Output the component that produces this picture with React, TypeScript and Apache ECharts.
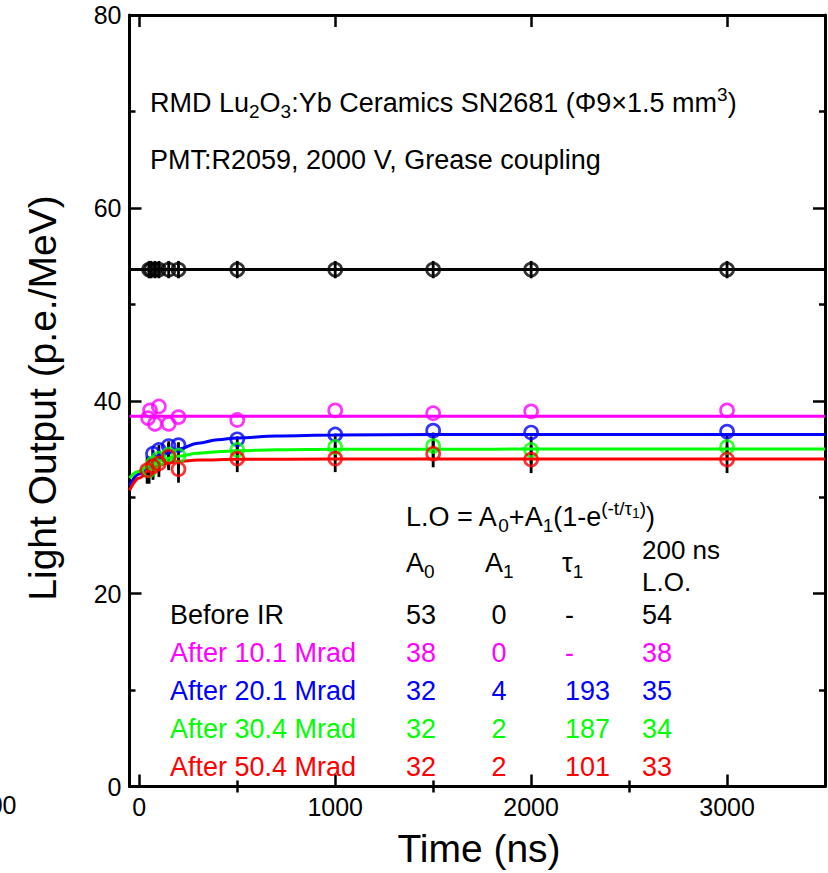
import React, { useEffect, useRef } from "react";
import * as echarts from "echarts";

const FONT = "'Liberation Sans', Arial, Helvetica, sans-serif";

// axis ticks
const xMajorTicks = [0, 1000, 2000, 3000];
const xMinorTicks = [500, 1500, 2500];
const yTicks = [0, 20, 40, 60, 80];

// colours
const cBlack = "#000000";
const cMagenta = "#ff00ff";
const cBlue = "#0000ff";
const cGreen = "#00ff00";
const cRed = "#ff0000";

// measured points
const blackT = [50, 60, 80, 100, 150, 200, 500, 1000, 1500, 2000, 3000];
const blackV = [53.6, 53.6, 53.6, 53.6, 53.6, 53.6, 53.6, 53.6, 53.6, 53.6, 53.6];
const blackErr = 0.9;

const magentaT = [45, 55, 80, 100, 150, 200, 500, 1000, 1500, 2000, 3000];
const magentaV = [38.2, 39.0, 37.6, 39.4, 37.6, 38.3, 38.0, 39.0, 38.7, 38.9, 39.0];

const blueT = [70, 100, 150, 200, 500, 1000, 1500, 2000, 3000];
const blueV = [34.5, 34.9, 35.3, 35.4, 36.0, 36.5, 36.9, 36.7, 36.8];

const greenT = [50, 70, 100, 150, 200, 500, 1000, 1500, 2000, 3000];
const greenV = [32.8, 33.5, 34.0, 34.4, 34.3, 34.9, 35.2, 35.3, 34.9, 35.2];
const greenErr = 1.4;

const redT = [40, 70, 100, 150, 200, 500, 1000, 1500, 2000, 3000];
const redV = [32.8, 33.2, 33.5, 34.2, 32.9, 34.0, 34.0, 34.5, 33.9, 33.9];
const redErr = 1.4;

// fitted curves
const blackFitT = [-50, 3500];
const blackFitV = [53.6, 53.6];
const magentaFitT = [-50, 3500];
const magentaFitV = [38.4, 38.4];
const blueFitT = [-50, 0, 50, 100, 150, 200, 300, 400, 500, 700, 1000, 1500, 3500];
const blueFitV = [31.2, 32.4, 33.3, 34.0, 34.6, 35.0, 35.6, 35.95, 36.15, 36.35, 36.45, 36.5, 36.5];
const greenFitT = [-50, 0, 50, 100, 150, 200, 300, 400, 500, 700, 1000, 3500];
const greenFitV = [32.0, 32.7, 33.3, 33.75, 34.05, 34.25, 34.55, 34.72, 34.82, 34.93, 34.98, 35.0];
const redFitT = [-50, 0, 50, 100, 150, 200, 300, 500, 1000, 3500];
const redFitV = [30.7, 32.0, 32.8, 33.3, 33.55, 33.72, 33.85, 33.93, 33.95, 33.95];

// fit table
const rowLabels = ["Before IR", "After 10.1 Mrad", "After 20.1 Mrad", "After 30.4 Mrad", "After 50.4 Mrad"];
const rowColors = [cBlack, cMagenta, cBlue, cGreen, cRed];
const rowA0 = ["53", "38", "32", "32", "32"];
const rowA1 = ["0", "0", "4", "2", "2"];
const rowTau = ["-", "-", "193", "187", "101"];
const rowLO = ["54", "38", "35", "34", "33"];

const zip = (t: number[], v: number[]) => t.map((x, i) => [x, v[i]]);
const errData = (t: number[], v: number[], e: number) => t.map((x, i) => [x, v[i] - e, v[i] + e]);

export default function App() {
  const ref = useRef<HTMLDivElement>(null);
  useEffect(() => {
    if (!ref.current) return;
    const chart = echarts.init(ref.current, undefined, { renderer: "svg" });
    const FS = 27;
    const rich = {
      n: { fontSize: FS, fontFamily: FONT },
      sub: { fontSize: 19, fontFamily: FONT, padding: [16, 0, 0, 0] },
      sup: { fontSize: 19, fontFamily: FONT, padding: [0, 0, 18, 0] },
      supsub: { fontSize: 14, fontFamily: FONT, padding: [0, 0, 9, 0] },
    };
    const txt = (x: number, y: number, text: string, color = "#000", align = "left", extra: any = {}) => ({
      type: "text",
      x,
      y,
      silent: true,
      style: {
        text,
        fill: color,
        fontSize: FS,
        fontFamily: FONT,
        align,
        verticalAlign: "middle",
        rich,
        ...extra,
      },
    });

    const rowY = [615, 653, 691, 729, 767];
    const graphics: any[] = [
      txt(150, 103, "RMD Lu{sub|2}O{sub|3}:Yb Ceramics SN2681 (Φ9×1.5 mm{sup|3})"),
      txt(150, 160, "PMT:R2059, 2000 V, Grease coupling"),
      txt(406, 517, "L.O = A{sub|0}+A{sub|1}(1-e{sup|(-t/τ}{supsub|1}{sup|)})"),
      txt(406, 563, "A{sub|0}"),
      txt(485, 563, "A{sub|1}"),
      txt(562, 563, "τ{sub|1}"),
      txt(642, 550, "200 ns", "#000", "left", { fontSize: 26, lineHeight: 24 }),
      txt(642, 582, "L.O.", "#000", "left", { fontSize: 26, lineHeight: 24 }),
      {
        type: "text",
        x: 42,
        y: 398,
        rotation: Math.PI / 2,
        silent: true,
        style: {
          text: "Light Output (p.e./MeV)",
          fill: "#000",
          fontSize: 39,
          fontFamily: FONT,
          align: "center",
          verticalAlign: "middle",
        },
      },
      {
        type: "text",
        x: 479,
        y: 848,
        silent: true,
        style: {
          text: "Time (ns)",
          fill: "#000",
          fontSize: 39,
          fontFamily: FONT,
          align: "center",
          verticalAlign: "middle",
        },
      },
      txt(16.5, 805, "000", "#000", "right", { fontSize: 25 }),
    ];
    rowLabels.forEach((lab, i) => {
      const c = rowColors[i];
      graphics.push(txt(170, rowY[i], lab, c));
      graphics.push(txt(406, rowY[i], rowA0[i], c));
      graphics.push(txt(499, rowY[i], rowA1[i], c, "center"));
      graphics.push(txt(565, rowY[i], rowTau[i], c));
      graphics.push(txt(642, rowY[i], rowLO[i], c));
    });

    const xBase = {
      type: "value",
      min: -50,
      max: 3500,
      splitLine: { show: false },
    };
    const yBase = {
      type: "value",
      min: 0,
      max: 80,
      interval: 20,
      splitLine: { show: false },
    };
    const axisLine = { show: true, onZero: false, lineStyle: { color: "#000", width: 3 } };

    const errSeries = (data: number[][], name: string) => ({
      type: "custom",
      name,
      z: 1,
      xAxisIndex: 0,
      yAxisIndex: 0,
      data,
      encode: { x: 0, y: [1, 2] },
      renderItem: (_p: any, api: any) => {
        const x = api.value(0);
        const a = api.coord([x, api.value(1)]);
        const b = api.coord([x, api.value(2)]);
        return {
          type: "line",
          shape: { x1: a[0], y1: a[1], x2: b[0], y2: b[1] },
          style: { stroke: "#000", lineWidth: 2.8 },
        };
      },
    });
    const fitSeries = (t: number[], v: number[], color: string) => ({
      type: "line",
      z: 2,
      data: zip(t, v),
      smooth: 0.4,
      smoothMonotone: "x",
      showSymbol: false,
      symbol: "none",
      lineStyle: { color, width: 3 },
    });
    const ptSeries = (t: number[], v: number[], color: string) => ({
      type: "scatter",
      z: 3,
      data: zip(t, v),
      symbol: "circle",
      symbolSize: 13,
      itemStyle: { color: "transparent", borderColor: color, borderWidth: 2.7 },
    });

    chart.setOption({
      animation: false,
      backgroundColor: "#ffffff",
      grid: { left: 129.5, right: 3, top: 15, bottom: 86.5, containLabel: false },
      xAxis: [
        {
          ...xBase,
          position: "bottom",
          axisLine,
          axisTick: { show: true, inside: true, length: 12, customValues: xMajorTicks, lineStyle: { color: "#000", width: 2.5 } },
          axisLabel: {
            show: true,
            customValues: xMajorTicks,
            color: "#000",
            fontSize: 25,
            fontFamily: FONT,
            margin: 8,
            formatter: (v: number) => String(v),
          },
        },
        {
          ...xBase,
          position: "bottom",
          axisLine: { show: false },
          axisTick: { show: true, inside: true, length: 6, customValues: xMinorTicks, lineStyle: { color: "#000", width: 2.5 } },
          axisLabel: { show: false },
        },
        {
          ...xBase,
          position: "top",
          axisLine,
          axisTick: { show: true, inside: true, length: 12, customValues: xMajorTicks, lineStyle: { color: "#000", width: 2.5 } },
          axisLabel: { show: false },
        },
        {
          ...xBase,
          position: "top",
          axisLine: { show: false },
          axisTick: { show: true, inside: true, length: 6, customValues: xMinorTicks, lineStyle: { color: "#000", width: 2.5 } },
          axisLabel: { show: false },
        },
      ],
      yAxis: [
        {
          ...yBase,
          position: "left",
          axisLine,
          axisTick: { show: true, inside: true, length: 12, lineStyle: { color: "#000", width: 2.5 } },
          minorTick: { show: true, splitNumber: 2, length: 6, lineStyle: { color: "#000", width: 2.5 } },
          axisLabel: {
            show: true,
            color: "#000",
            fontSize: 25,
            fontFamily: FONT,
            margin: 8,
            formatter: (v: number) => (yTicks.includes(v) ? String(v) : ""),
          },
        },
        {
          ...yBase,
          position: "right",
          axisLine,
          axisTick: { show: true, inside: true, length: 12, lineStyle: { color: "#000", width: 2.5 } },
          minorTick: { show: true, splitNumber: 2, length: 6, lineStyle: { color: "#000", width: 2.5 } },
          axisLabel: { show: false },
        },
      ],
      series: [
        errSeries(errData(blackT, blackV, blackErr), "errBlack"),
        errSeries(errData(greenT, greenV, greenErr), "errGreen"),
        errSeries(errData(redT, redV, redErr), "errRed"),
        fitSeries(blackFitT, blackFitV, cBlack),
        fitSeries(magentaFitT, magentaFitV, cMagenta),
        fitSeries(blueFitT, blueFitV, cBlue),
        fitSeries(greenFitT, greenFitV, cGreen),
        fitSeries(redFitT, redFitV, cRed),
        ptSeries(blackT, blackV, cBlack),
        ptSeries(magentaT, magentaV, cMagenta),
        ptSeries(blueT, blueV, cBlue),
        ptSeries(greenT, greenV, cGreen),
        ptSeries(redT, redV, cRed),
      ],
      graphic: graphics,
    });
    return () => chart.dispose();
  }, []);
  return (
    <div
      ref={ref}
      style={{ position: "absolute", left: 0, top: 0, width: 828, height: 873, background: "#fff" }}
    />
  );
}
